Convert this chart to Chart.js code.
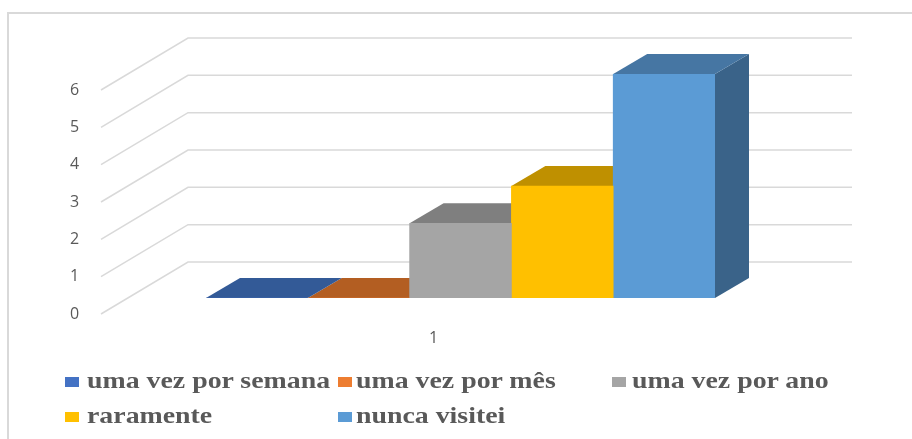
<!DOCTYPE html>
<html lang="pt">
<head>
  <meta charset="UTF-8">
  <title>Frequência de visitas</title>
  <script src="https://cdn.jsdelivr.net/npm/chart.js"></script>
  <style>
    html, body { margin: 0; padding: 0; background: #fff; overflow: hidden; }
    body { width: 912px; height: 439px; position: relative; }
    .frame { position: absolute; left: 7px; top: 12px; width: 1000px; height: 500px; border: 2px solid #d9d9d9; }
    #chart { position: absolute; left: 0; top: 0; }
    .sw { position: absolute; width: 14px; height: 10px; }
    .lbl { position: absolute; font-family: "Liberation Serif", "Times New Roman", serif; font-weight: bold;
           font-size: 24px; line-height: 24px; color: #595959; white-space: nowrap;
           transform: scaleX(1.16); transform-origin: left center; }
  </style>
</head>
<body>
  <div class="frame"></div>
  <canvas id="chart" width="912" height="439"></canvas>
  <div id="legend"></div>

  <script>
    // dados do gráfico
    const categories = ['1'];
    const seriesNames = ['uma vez por semana', 'uma vez por mês', 'uma vez por ano', 'raramente', 'nunca visitei'];
    const seriesValues = [0, 0, 2, 3, 6];
    const yTicks = [0, 1, 2, 3, 4, 5, 6];

    // cores: frente, topo, lateral
    const frontColors = ['#4472C4', '#ED7D31', '#A5A5A5', '#FFC000', '#5B9BD5'];
    const topColors = ['#335A97', '#B35E22', '#7F7F7F', '#BF9000', '#4676A3'];
    const sideColors = ['#27467A', '#9E480E', '#636363', '#997300', '#3A6389'];

    const DX = 34, DY = -20;   // profundidade das barras
    const grey = '#595959';

    // paredes e faces 3D
    const threeD = {
      id: 'threeD',
      beforeDatasetsDraw(chart) {
        const ctx = chart.ctx;
        const y = chart.scales.y;
        const a = chart.chartArea;
        ctx.save();
        ctx.strokeStyle = '#d9d9d9';
        ctx.lineWidth = 1.5;
        yTicks.forEach(v => {
          const yb = y.getPixelForValue(v) - 36;
          ctx.beginPath();
          ctx.moveTo(a.left - 105, yb + 52);
          ctx.lineTo(a.left - 18, yb);
          ctx.lineTo(a.right + 137, yb);
          ctx.stroke();
        });
        // topo e lateral, da direita para a esquerda
        for (let i = seriesValues.length - 1; i >= 0; i--) {
          const bar = chart.getDatasetMeta(i).data[0];
          const p = bar.getProps(['x', 'y', 'base', 'width'], true);
          const l = p.x - p.width / 2, r = p.x + p.width / 2;
          ctx.fillStyle = sideColors[i];
          ctx.beginPath();
          ctx.moveTo(r, p.y);
          ctx.lineTo(r + DX, p.y + DY);
          ctx.lineTo(r + DX, p.base + DY);
          ctx.lineTo(r, p.base);
          ctx.closePath();
          ctx.fill();
          ctx.fillStyle = topColors[i];
          ctx.beginPath();
          ctx.moveTo(l, p.y);
          ctx.lineTo(l + DX, p.y + DY);
          ctx.lineTo(r + DX, p.y + DY);
          ctx.lineTo(r, p.y);
          ctx.closePath();
          ctx.fill();
        }
        ctx.restore();
      }
    };

    new Chart(document.getElementById('chart'), {
      type: 'bar',
      data: {
        labels: categories,
        datasets: seriesNames.map((name, i) => ({
          label: name,
          data: [seriesValues[i]],
          backgroundColor: frontColors[i],
          borderWidth: 0,
          barPercentage: 1,
          categoryPercentage: 1
        }))
      },
      options: {
        responsive: false,
        animation: false,
        layout: { padding: { left: 70, right: 197, top: 74, bottom: 66 } },
        plugins: { legend: { display: false }, tooltip: { enabled: false } },
        scales: {
          x: {
            grid: { display: false, drawTicks: false },
            border: { display: false },
            ticks: { padding: 31, labelOffset: -27, color: grey, font: { family: 'Open Sans', size: 16 } },
            afterFit(s) { s.height = 75; }
          },
          y: {
            min: 0, max: 6,
            grid: { display: false, drawTicks: false },
            border: { display: false },
            ticks: { stepSize: 1, padding: 0, crossAlign: 'far', labelOffset: 16, color: grey, font: { family: 'Open Sans', size: 16 } },
            afterFit(s) { s.width = 136; }
          }
        }
      },
      plugins: [threeD]
    });

    // legenda
    const legendPos = [[65, 87, 377], [338, 356, 377], [612, 632, 377], [65, 87, 412], [338, 356, 412]];
    const legend = document.getElementById('legend');
    seriesNames.forEach((name, i) => {
      const [sx, tx, sy] = legendPos[i];
      const sw = document.createElement('div');
      sw.className = 'sw';
      sw.style.left = sx + 'px';
      sw.style.top = sy + 'px';
      sw.style.background = frontColors[i];
      legend.appendChild(sw);
      const t = document.createElement('div');
      t.className = 'lbl';
      t.style.left = tx + 'px';
      t.style.top = (sy - 9) + 'px';
      t.textContent = name;
      legend.appendChild(t);
    });
  </script>
</body>
</html>
